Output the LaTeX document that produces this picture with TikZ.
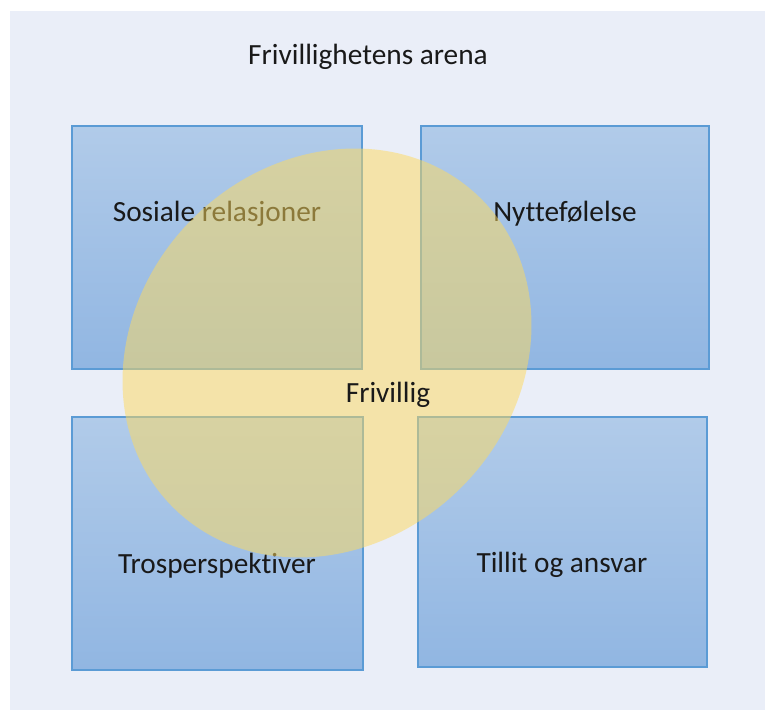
\documentclass[tikz,border=0pt]{standalone}
\usepackage{fontspec}
\setmainfont{Carlito}[Ligatures={NoCommon,NoContextual}, RawFeature={-liga,-clig,-calt,-dlig}]
\usetikzlibrary{shapes.geometric}
\definecolor{bgcol}{RGB}{234,238,248}
\definecolor{boxtop}{RGB}{177,203,233}
\definecolor{boxbot}{RGB}{145,182,226}
\definecolor{boxline}{RGB}{91,155,213}
\definecolor{ellcol}{RGB}{255,218,92}
\definecolor{txt}{RGB}{25,25,25}
\tikzset{
  boxnode/.style={rectangle, draw=boxline, line width=1.3pt, top color=boxtop, bottom color=boxbot, inner sep=0pt},
  lbl/.style={text=txt, font=\fontsize{29.3}{35}\selectfont, inner sep=0pt, anchor=base},
}
\begin{document}
\begin{tikzpicture}[x=1pt,y=-1pt]
\useasboundingbox (0,0) rectangle (765,711);
\fill[bgcol] (10,11) rectangle (765,710);
\node[boxnode, minimum width=290pt, minimum height=243pt] (b1) at (217,247.5) {};
\node[boxnode, minimum width=288pt, minimum height=243pt] (b2) at (565,247.5) {};
\node[boxnode, minimum width=291pt, minimum height=253pt] (b3) at (217.5,543.5) {};
\node[boxnode, minimum width=289pt, minimum height=250pt] (b4) at (562.5,542) {};
\node[lbl] (t1) at (217,222) {Sosiale relasjoner};
\node[lbl] (t2) at (565,222) {Nyttefølelse};
\node[lbl] (t3) at (217,573) {Trosperspektiver};
\node[lbl] (t4) at (562,572) {Tillit og ansvar};
\node[ellipse, fill=ellcol, fill opacity=0.5, minimum width=436pt, minimum height=380pt, inner sep=0pt, rotate=45] (ell) at (327,353) {};
\node[lbl] (fr) at (388,402) {Frivillig};
\node[lbl] (title) at (368,65) {Frivillighetens arena};
\end{tikzpicture}
\end{document}
